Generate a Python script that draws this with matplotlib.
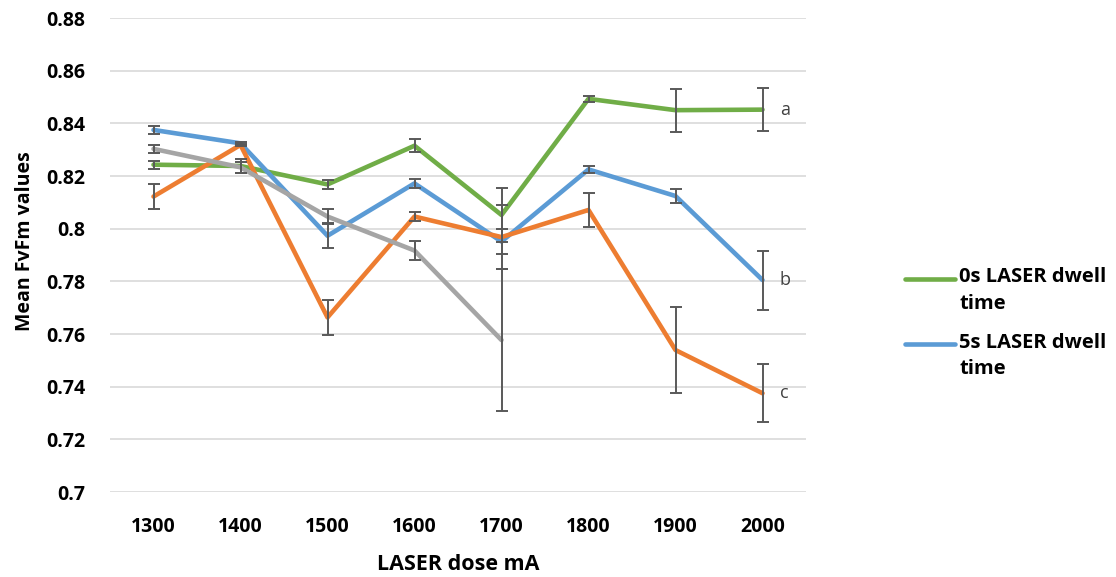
import matplotlib
matplotlib.use("Agg")
import matplotlib.pyplot as plt
from matplotlib.lines import Line2D
import numpy as np

plt.rcParams['font.family'] = ['Open Sans', 'DejaVu Sans']

doses = ["1300", "1400", "1500", "1600", "1700", "1800", "1900", "2000"]

dwell_0s = [0.8243, 0.8238, 0.8168, 0.8315, 0.8052, 0.8493, 0.8450, 0.8452]
dwell_0s_err = [0.0015, 0.0025, 0.0018, 0.0025, 0.0103, 0.0012, 0.0082, 0.0083]

dwell_5s = [0.8375, 0.8324, 0.7973, 0.8172, 0.7951, 0.8225, 0.8124, 0.7805]
dwell_5s_err = [0.0014, 0.0007, 0.0047, 0.0017, 0.0047, 0.0012, 0.0025, 0.0112]

dwell_orange = [0.8122, 0.8318, 0.7663, 0.8046, 0.7968, 0.8071, 0.7539, 0.7375]
dwell_orange_err = [0.0047, 0.0004, 0.0065, 0.0018, 0.0120, 0.0065, 0.0162, 0.0110]

dwell_gray = [0.8303, 0.8233, 0.8046, 0.7917, 0.7577]
dwell_gray_err = [0.0016, 0.0020, 0.0029, 0.0036, 0.0270]

group_letters = ["a", "b", "c"]
legend_labels = ["0s LASER dwell\ntime", "5s LASER dwell\ntime"]

W, H = 1116, 577
fig = plt.figure(figsize=(W / 100, H / 100), dpi=100)
ax = fig.add_axes([110 / W, 1 - 492 / H, 696 / W, 474 / H])

x = np.arange(len(doses))
err_kw = dict(ecolor="#595959", elinewidth=1.4, capsize=4.2, capthick=1.4,
              fmt="none", zorder=4)

series = [
    (dwell_0s, dwell_0s_err, "#70AD47"),
    (dwell_5s, dwell_5s_err, "#5B9BD5"),
    (dwell_orange, dwell_orange_err, "#ED7D31"),
    (dwell_gray, dwell_gray_err, "#A5A5A5"),
]

for vals, errs, color in series:
    xs = x[:len(vals)]
    ax.plot(xs, vals, color=color, lw=3.3, solid_capstyle="round",
            solid_joinstyle="round", zorder=3)
    ax.errorbar(xs, vals, yerr=errs, **err_kw)

# group letters beside the last points
last = x[-1]
for letter, vals in zip(group_letters, [dwell_0s, dwell_5s, dwell_orange]):
    ax.text(last + 0.2, vals[-1], letter, fontsize=13, color="#404040",
            va="center", ha="left")

ax.set_xlim(-0.5, len(doses) - 0.5)
ax.set_ylim(0.70, 0.88)
ax.set_yticks(np.arange(0.70, 0.8801, 0.02))
ax.set_yticklabels(["0.7", "0.72", "0.74", "0.76", "0.78", "0.8", "0.82",
                    "0.84", "0.86", "0.88"])
ax.set_xticks(x)
ax.set_xticklabels(doses)
ax.grid(axis="y", color="#D9D9D9", lw=1.2, zorder=0)
ax.set_axisbelow(True)
for s in ax.spines.values():
    s.set_visible(False)
ax.tick_params(axis="both", length=0, labelsize=14, colors="#000000")
ax.tick_params(axis="y", pad=18)
ax.tick_params(axis="x", pad=18)
for lbl in ax.get_xticklabels() + ax.get_yticklabels():
    lbl.set_fontweight("bold")

ax.set_xlabel("LASER dose mA", fontsize=15.5, fontweight="bold", labelpad=12)
ax.set_ylabel("Mean FvFm values", fontsize=14, fontweight="bold")
ax.yaxis.set_label_coords(-0.108, 0.53)

# legend: line handle aligned with the first text row of each entry
for i, (label, color) in enumerate(zip(legend_labels, ["#70AD47", "#5B9BD5"])):
    y_row = 1 - (279 + 65 * i) / H
    fig.add_artist(Line2D([905 / W, 955 / W], [y_row, y_row], color=color,
                          lw=3.3, solid_capstyle="round",
                          transform=fig.transFigure))
    fig.text(959 / W, y_row + 11.5 / H, label, fontsize=14.5, fontweight="bold",
             va="top", ha="left", linespacing=1.45,
             transform=fig.transFigure)

fig.savefig("out.png", dpi=100)
